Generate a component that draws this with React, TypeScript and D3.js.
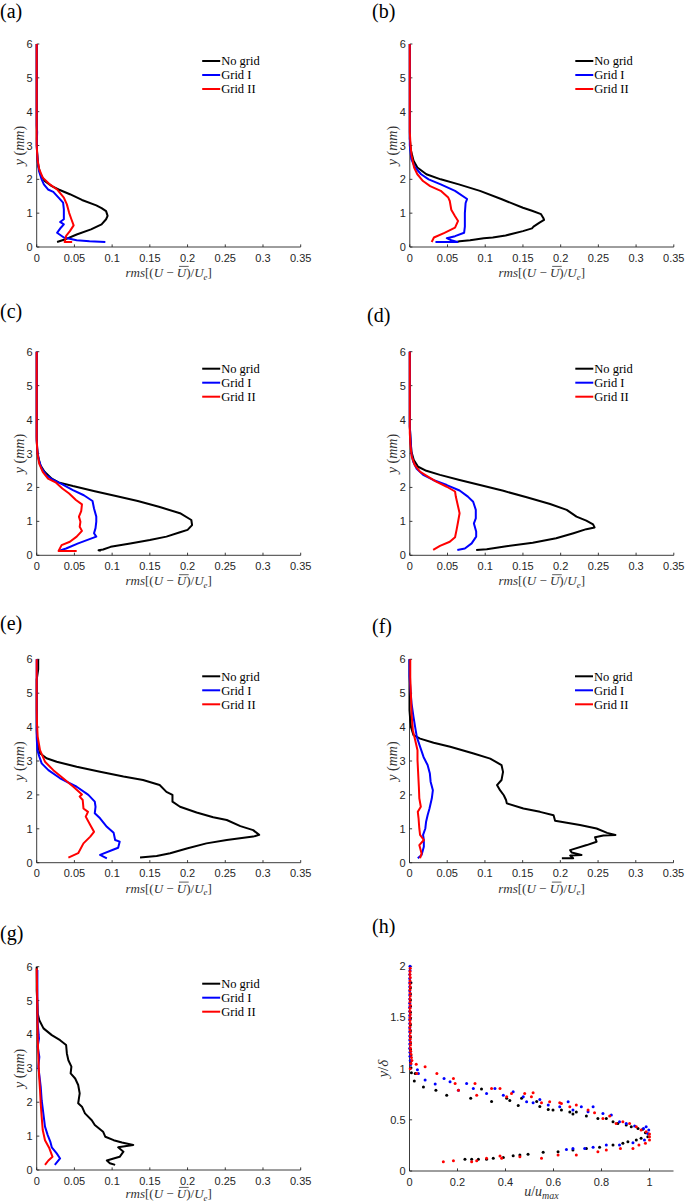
import React, { useLayoutEffect, useRef, useState } from 'react';
import * as d3 from 'd3';

type P = [number, number];

// ---------- tick labels / categories ----------
const rmsTicks = [0, 0.05, 0.1, 0.15, 0.2, 0.25, 0.3, 0.35];
const rmsTickLabels = ['0', '0.05', '0.1', '0.15', '0.2', '0.25', '0.3', '0.35'];
const mmTicks = [0, 1, 2, 3, 4, 5, 6];
const mmTickLabels = ['0', '1', '2', '3', '4', '5', '6'];
const hXTicks = [0, 0.2, 0.4, 0.6, 0.8, 1];
const hXTickLabels = ['0', '0.2', '0.4', '0.6', '0.8', '1'];
const hYTicks = [0, 0.5, 1, 1.5, 2];
const hYTickLabels = ['0', '0.5', '1', '1.5', '2'];
const seriesNames = ['No grid', 'Grid I', 'Grid II'];
const seriesColors = ['#000000', '#0000ff', '#ff0000'];
const panelLabels = ['(a)', '(b)', '(c)', '(d)', '(e)', '(f)', '(g)', '(h)'];

// ---------- series values: [rms, y(mm)] ----------
const aNoGrid: P[] = [[0.027,0.15],[0.037,0.22],[0.053,0.37],[0.072,0.52],[0.086,0.67],[0.092,0.82],[0.094,0.92],[0.092,1.06],[0.086,1.15],[0.079,1.23],[0.06,1.39],[0.044,1.56],[0.029,1.7],[0.02,1.8],[0.0105,1.95],[0.005,2.15],[0.002,2.4],[0.0005,2.8],[0,3.2],[0,6]];
const aGrid1: P[] = [[0.091,0.15],[0.07,0.17],[0.053,0.2],[0.036,0.28],[0.027,0.42],[0.032,0.57],[0.036,0.67],[0.031,0.74],[0.036,0.82],[0.036,1.11],[0.035,1.31],[0.029,1.46],[0.022,1.63],[0.015,1.7],[0.0095,1.85],[0.0066,2.0],[0.003,2.25],[0.001,2.6],[0,3.0],[0.0006,3.4],[0,3.6],[0,6]];
const aGrid2: P[] = [[0.047,0.15],[0.037,0.15],[0.038,0.22],[0.039,0.33],[0.044,0.47],[0.049,0.64],[0.046,0.82],[0.043,1.01],[0.04,1.26],[0.036,1.46],[0.027,1.7],[0.0175,1.85],[0.008,2.05],[0.0033,2.3],[0.001,2.6],[0,3.0],[0,6]];

const bNoGrid: P[] = [[0.062,0.15],[0.066,0.17],[0.08,0.2],[0.098,0.26],[0.11,0.28],[0.127,0.34],[0.15,0.47],[0.162,0.55],[0.164,0.6],[0.172,0.72],[0.178,0.8],[0.177,0.86],[0.174,0.97],[0.162,1.07],[0.15,1.16],[0.122,1.41],[0.093,1.66],[0.065,1.85],[0.041,2.0],[0.022,2.15],[0.01,2.35],[0.005,2.55],[0.0015,2.85],[0,3.2],[0,6]];
const bGrid1: P[] = [[0.034,0.15],[0.063,0.15],[0.055,0.2],[0.049,0.26],[0.06,0.32],[0.072,0.42],[0.073,0.6],[0.073,1.0],[0.074,1.3],[0.076,1.42],[0.06,1.66],[0.041,1.85],[0.025,2.0],[0.015,2.15],[0.007,2.35],[0.002,2.6],[0,3.0],[0,6]];
const bGrid2: P[] = [[0.029,0.15],[0.032,0.28],[0.046,0.42],[0.06,0.57],[0.064,0.77],[0.06,0.91],[0.055,1.1],[0.053,1.36],[0.051,1.46],[0.041,1.66],[0.027,1.8],[0.0175,1.95],[0.01,2.15],[0.0057,2.35],[0.0024,2.7],[0.001,3.0],[0,3.4],[0,6]];

const cNoGrid: P[] = [[0.085,0.13],[0.082,0.15],[0.088,0.17],[0.098,0.25],[0.124,0.35],[0.15,0.45],[0.172,0.55],[0.19,0.68],[0.2,0.75],[0.206,0.89],[0.205,1.04],[0.19,1.24],[0.162,1.43],[0.134,1.6],[0.105,1.75],[0.077,1.89],[0.048,2.04],[0.029,2.15],[0.02,2.26],[0.0104,2.46],[0.0047,2.66],[0.002,2.9],[0.0005,3.15],[0,3.5],[0,6]];
const cGrid1: P[] = [[0.029,0.13],[0.039,0.2],[0.055,0.35],[0.079,0.55],[0.076,0.65],[0.078,0.8],[0.079,0.99],[0.079,1.14],[0.076,1.38],[0.074,1.6],[0.0625,1.77],[0.048,1.92],[0.034,2.09],[0.022,2.22],[0.0128,2.36],[0.0066,2.56],[0.003,2.8],[0.001,3.05],[0,3.4],[0,6]];
const cGrid2: P[] = [[0.053,0.13],[0.029,0.13],[0.033,0.3],[0.044,0.4],[0.053,0.55],[0.06,0.72],[0.057,0.84],[0.058,0.99],[0.056,1.14],[0.059,1.3],[0.06,1.5],[0.052,1.63],[0.043,1.82],[0.034,1.97],[0.025,2.15],[0.015,2.26],[0.008,2.46],[0.0033,2.7],[0.001,3.0],[0,3.4],[0,6]];

const dNoGrid: P[] = [[0.088,0.157],[0.102,0.18],[0.128,0.27],[0.163,0.37],[0.194,0.5],[0.217,0.65],[0.234,0.77],[0.245,0.82],[0.243,0.91],[0.234,1.02],[0.221,1.14],[0.208,1.34],[0.186,1.51],[0.155,1.71],[0.124,1.9],[0.093,2.07],[0.066,2.22],[0.04,2.37],[0.022,2.49],[0.011,2.61],[0.0053,2.81],[0.0022,3.05],[0.001,3.4],[0,3.8],[0,6]];
const dGrid1: P[] = [[0.063,0.157],[0.073,0.2],[0.082,0.35],[0.088,0.55],[0.088,0.7],[0.085,0.94],[0.0875,1.09],[0.0875,1.34],[0.084,1.58],[0.077,1.73],[0.066,1.91],[0.049,2.07],[0.031,2.22],[0.0177,2.37],[0.0088,2.56],[0.0044,2.76],[0.0022,3.0],[0.001,3.4],[0,3.8],[0,6]];
const dGrid2: P[] = [[0.031,0.157],[0.04,0.28],[0.053,0.4],[0.06,0.53],[0.062,0.75],[0.064,0.99],[0.066,1.24],[0.064,1.44],[0.061,1.73],[0.06,1.88],[0.049,2.02],[0.035,2.17],[0.024,2.32],[0.0133,2.47],[0.0066,2.66],[0.0027,2.9],[0.001,3.2],[0,3.6],[0,6]];

const eNoGrid: P[] = [[0.137,0.15],[0.159,0.2],[0.177,0.28],[0.199,0.42],[0.225,0.57],[0.252,0.67],[0.287,0.77],[0.295,0.82],[0.287,0.96],[0.27,1.08],[0.252,1.26],[0.234,1.34],[0.212,1.48],[0.19,1.65],[0.18,1.8],[0.18,2.0],[0.172,2.09],[0.163,2.29],[0.141,2.44],[0.115,2.54],[0.084,2.68],[0.053,2.83],[0.0265,2.98],[0.013,3.08],[0.0044,3.23],[0.001,3.52],[0,3.9],[0,5.4],[0.002,5.7],[0.002,6]];
const eGrid1: P[] = [[0.093,0.13],[0.084,0.23],[0.102,0.39],[0.108,0.44],[0.11,0.62],[0.104,0.67],[0.102,0.88],[0.093,1.06],[0.084,1.31],[0.077,1.46],[0.078,1.65],[0.077,1.8],[0.0685,2.0],[0.053,2.24],[0.031,2.49],[0.0155,2.73],[0.0066,2.93],[0.0035,3.13],[0.0009,3.32],[0,3.7],[0,6]];
const eGrid2: P[] = [[0.042,0.15],[0.055,0.28],[0.062,0.57],[0.071,0.77],[0.076,0.91],[0.071,1.11],[0.065,1.36],[0.068,1.5],[0.062,1.6],[0.061,1.85],[0.057,1.95],[0.06,2.01],[0.0486,2.24],[0.035,2.49],[0.022,2.73],[0.011,2.98],[0.0044,3.32],[0.0013,3.72],[0.0004,4.1],[0,4.5],[0,6]];

const fNoGrid: P[] = [[0.202,0.13],[0.217,0.13],[0.213,0.21],[0.228,0.23],[0.215,0.3],[0.213,0.37],[0.235,0.52],[0.248,0.62],[0.246,0.75],[0.257,0.8],[0.273,0.82],[0.262,0.88],[0.248,1.01],[0.226,1.11],[0.193,1.24],[0.191,1.4],[0.173,1.5],[0.151,1.6],[0.129,1.75],[0.128,1.85],[0.125,1.99],[0.12,2.14],[0.116,2.29],[0.122,2.44],[0.124,2.68],[0.122,2.88],[0.107,3.07],[0.085,3.22],[0.054,3.42],[0.032,3.54],[0.014,3.66],[0.0053,3.76],[0.002,4.0],[0.001,4.2],[0,4.5],[0,6]];
const fGrid1: P[] = [[0.011,0.13],[0.016,0.23],[0.019,0.47],[0.019,0.67],[0.018,0.82],[0.021,1.01],[0.022,1.21],[0.024,1.4],[0.0265,1.6],[0.0296,1.9],[0.031,2.14],[0.028,2.39],[0.027,2.63],[0.024,2.88],[0.0186,3.12],[0.0133,3.47],[0.0097,3.71],[0.0075,4.0],[0.0053,4.3],[0.0027,4.7],[0.0013,5.1],[0,5.5],[0,6]];
const fGrid2: P[] = [[0.014,0.13],[0.016,0.27],[0.013,0.52],[0.019,0.67],[0.014,0.82],[0.013,1.01],[0.012,1.31],[0.011,1.5],[0.015,1.65],[0.013,1.9],[0.0124,2.24],[0.0115,2.63],[0.0106,3.03],[0.0106,3.32],[0.0075,3.62],[0.0044,3.91],[0.0027,4.4],[0.0018,5.0],[0.001,5.48],[0.001,6]];

const gNoGrid: P[] = [[0.104,0.15],[0.097,0.2],[0.093,0.28],[0.102,0.34],[0.11,0.39],[0.115,0.54],[0.108,0.67],[0.128,0.74],[0.113,0.81],[0.102,0.88],[0.091,0.98],[0.088,1.13],[0.077,1.33],[0.073,1.47],[0.064,1.67],[0.06,1.87],[0.055,1.97],[0.057,2.26],[0.055,2.51],[0.051,2.7],[0.045,2.85],[0.046,3.05],[0.042,3.24],[0.04,3.44],[0.039,3.69],[0.031,3.83],[0.02,3.98],[0.009,4.18],[0.0035,4.42],[0.0013,4.62],[0.0009,4.9],[0,5.3],[0,6]];
const gGrid1: P[] = [[0.024,0.15],[0.031,0.34],[0.0265,0.49],[0.02,0.67],[0.018,0.84],[0.0146,1.03],[0.011,1.28],[0.0088,1.67],[0.0066,2.06],[0.0053,2.46],[0.0035,2.8],[0.0022,3.05],[0.0035,3.34],[0.0013,3.64],[0.003,3.88],[0.0013,4.33],[0.0009,4.92],[0.0009,5.9]];
const gGrid2: P[] = [[0.011,0.15],[0.0155,0.28],[0.021,0.39],[0.0168,0.64],[0.011,0.88],[0.008,1.18],[0.0066,1.57],[0.0053,1.97],[0.0044,2.36],[0.003,2.85],[0.0022,3.34],[0.0013,3.93],[0.0009,4.72],[0.0004,5.5],[0,5.95]];

// ---------- panel (h): [u/umax, y/delta] ----------
const hNoGrid: P[] = [[0.006,1.84],[0.004,1.79],[0.004,1.73],[0.004,1.67],[0.004,1.61],[0.004,1.55],[0.004,1.49],[0.004,1.43],[0.004,1.37],[0.004,1.31],[0.004,1.25],[0.004,1.19],[0.005,1.13],[0.005,1.07],[0.006,1.01],[0.008,0.96],
  [0.024,0.953],[0.02,0.88],[0.058,0.82],[0.11,0.79],[0.155,0.74],[0.255,0.71],[0.3,0.8],[0.342,0.68],[0.405,0.71],[0.418,0.69],[0.453,0.64],[0.467,0.71],[0.53,0.68],[0.543,0.63],[0.578,0.6],[0.598,0.595],[0.633,0.595],[0.668,0.576],[0.681,0.556],[0.695,0.576],[0.737,0.537],[0.785,0.514],[0.82,0.514],[0.848,0.481],[0.868,0.465],[0.903,0.449],[0.924,0.433],[0.952,0.416],[0.972,0.407],[0.983,0.374],[0.993,0.335],[0.965,0.319],[0.945,0.302],[0.91,0.286],[0.889,0.27],[0.848,0.254],[0.792,0.231],[0.737,0.221],[0.681,0.205],[0.619,0.189],[0.557,0.182],[0.494,0.163],[0.46,0.156],[0.432,0.15],[0.391,0.133],[0.349,0.124],[0.321,0.114],[0.287,0.114],[0.259,0.114],[0.231,0.114]];
const hGrid1: P[] = [[0.002,2.0],[0.002,1.96],[0.001,1.92],[0.001,1.88],[0.001,1.84],[0.001,1.8],[0.001,1.76],[0.001,1.72],[0.001,1.68],[0.001,1.64],[0.001,1.6],[0.001,1.56],[0.001,1.52],[0.001,1.48],[0.001,1.44],[0.001,1.4],[0.001,1.36],[0.001,1.32],[0.001,1.28],[0.001,1.24],[0.001,1.2],[0.002,1.16],[0.002,1.12],[0.003,1.08],[0.005,1.04],
  [0.033,0.99],[0.037,0.953],[0.065,0.888],[0.107,0.849],[0.144,0.904],[0.169,0.871],[0.204,0.79],[0.238,0.855],[0.266,0.806],[0.321,0.758],[0.356,0.806],[0.391,0.741],[0.432,0.774],[0.474,0.725],[0.488,0.676],[0.515,0.667],[0.543,0.699],[0.578,0.644],[0.626,0.628],[0.661,0.676],[0.681,0.595],[0.716,0.628],[0.744,0.579],[0.765,0.628],[0.806,0.563],[0.841,0.546],[0.875,0.481],[0.903,0.465],[0.938,0.439],[0.975,0.416],[0.986,0.433],[0.997,0.4],[0.993,0.367],[0.979,0.302],[0.931,0.276],[0.875,0.254],[0.82,0.254],[0.765,0.231],[0.73,0.221],[0.681,0.221],[0.654,0.211]];
const hGrid2: P[] = [[0.003,1.98],[0.002,1.95],[0.002,1.92],[0.003,1.89],[0.002,1.86],[0.002,1.83],[0.003,1.8],[0.002,1.77],[0.002,1.74],[0.003,1.71],[0.002,1.68],[0.002,1.65],[0.003,1.62],[0.002,1.59],[0.002,1.56],[0.003,1.53],[0.002,1.5],[0.002,1.47],[0.003,1.44],[0.002,1.41],[0.002,1.38],[0.003,1.35],[0.003,1.32],[0.003,1.29],[0.004,1.26],[0.004,1.23],[0.004,1.2],[0.005,1.17],[0.006,1.14],[0.008,1.11],[0.01,1.08],[0.006,1.05],[0.003,1.0],
  [0.028,1.044],[0.065,1.018],[0.03,0.953],[0.114,0.953],[0.183,0.904],[0.19,0.855],[0.204,0.79],[0.273,0.855],[0.28,0.741],[0.342,0.806],[0.377,0.806],[0.405,0.725],[0.425,0.758],[0.48,0.758],[0.508,0.725],[0.515,0.764],[0.55,0.667],[0.584,0.676],[0.626,0.667],[0.633,0.66],[0.668,0.628],[0.695,0.644],[0.744,0.595],[0.771,0.569],[0.806,0.514],[0.834,0.537],[0.861,0.465],[0.889,0.481],[0.917,0.465],[0.945,0.433],[0.965,0.4],[0.986,0.384],[1.0,0.361],[1.0,0.335],[1.0,0.302],[0.983,0.27],[0.956,0.254],[0.931,0.221],[0.879,0.221],[0.82,0.205],[0.785,0.189],[0.695,0.156],[0.619,0.156],[0.55,0.124],[0.46,0.14],[0.384,0.124],[0.377,0.146],[0.321,0.124],[0.28,0.101],[0.259,0.091],[0.183,0.101],[0.141,0.091]];

const lineSeries: P[][][] = [
  [aNoGrid, aGrid1, aGrid2],
  [bNoGrid, bGrid1, bGrid2],
  [cNoGrid, cGrid1, cGrid2],
  [dNoGrid, dGrid1, dGrid2],
  [eNoGrid, eGrid1, eGrid2],
  [fNoGrid, fGrid1, fGrid2],
  [gNoGrid, gGrid1, gGrid2],
];
const scatterSeries: P[][] = [hNoGrid, hGrid1, hGrid2];

// ---------- layout (pixels) ----------
const W = 685;
const H = 1203;
const AXW = 264;
const layout = [
  { lx: 0, ly: 18, left: 36.7, top: 44, bottom: 247 },
  { lx: 372, ly: 18, left: 409.8, top: 44, bottom: 247 },
  { lx: 0, ly: 318, left: 36.7, top: 351.7, bottom: 555.3 },
  { lx: 367, ly: 322, left: 409.8, top: 351.7, bottom: 555.3 },
  { lx: 0, ly: 630, left: 36.7, top: 659.3, bottom: 862.7 },
  { lx: 372, ly: 633, left: 409.5, top: 659.3, bottom: 862.7 },
  { lx: 0, ly: 940, left: 36.7, top: 966.7, bottom: 1170 },
  { lx: 372, ly: 933, left: 409.5, top: 966.3, bottom: 1171 },
];

const SANS = '"Liberation Sans", Arial, Helvetica, sans-serif';
const SERIF = '"Liberation Serif", "Times New Roman", serif';
const AXC = '#262626';
const LW = 2;

function Axes({ x, y, xt, xtl, yt, ytl }: any) {
  const [x0, x1] = x.range();
  const [y0, y1] = y.range();
  const tick = 2.6;
  return (
    <g>
      <line x1={x0} x2={x1} y1={y0} y2={y0} stroke={AXC} strokeWidth={0.9} />
      <line x1={x0} x2={x0} y1={y0} y2={y1} stroke={AXC} strokeWidth={0.9} />
      {xt.map((t: number, i: number) => (
        <g key={'x' + i}>
          <line x1={x(t)} x2={x(t)} y1={y0} y2={y0 - tick} stroke={AXC} strokeWidth={0.9} />
          <text x={x(t)} y={y0 + 14.5} textAnchor="middle" fontFamily={SANS} fontSize={11} fill={AXC}>{xtl[i]}</text>
        </g>
      ))}
      {yt.map((t: number, i: number) => (
        <g key={'y' + i}>
          <line x1={x0} x2={x0 + tick} y1={y(t)} y2={y(t)} stroke={AXC} strokeWidth={0.9} />
          <text x={x0 - 4} y={y(t) + 4} textAnchor="end" fontFamily={SANS} fontSize={11} fill={AXC}>{ytl[i]}</text>
        </g>
      ))}
    </g>
  );
}

function RmsLabel({ cx, cy }: { cx: number; cy: number }) {
  const ref = useRef<SVGTSpanElement>(null);
  const [bar, setBar] = useState<[number, number] | null>(null);
  useLayoutEffect(() => {
    if (ref.current) {
      const b = (ref.current as any).getBBox();
      setBar([b.x + 2.2, b.x + b.width + 0.8]);
    }
  }, [cx, cy]);
  return (
    <g>
      <text x={cx} y={cy} textAnchor="middle" fontFamily={SERIF} fontSize={13} fill="#333">
        <tspan fontStyle="italic">rms</tspan>
        <tspan>[(</tspan>
        <tspan fontStyle="italic">U</tspan>
        <tspan> − </tspan>
        <tspan ref={ref} fontStyle="italic">U</tspan>
        <tspan>)/</tspan>
        <tspan fontStyle="italic">U</tspan>
        <tspan fontStyle="italic" fontSize={9} dy={2.5}>e</tspan>
        <tspan dy={-2.5}>]</tspan>
      </text>
      {bar && <line x1={bar[0]} x2={bar[1]} y1={cy - 10.6} y2={cy - 10.6} stroke="#333" strokeWidth={0.8} />}
    </g>
  );
}

function MmLabel({ cx, cy }: { cx: number; cy: number }) {
  return (
    <text transform={`translate(${cx},${cy}) rotate(-90)`} textAnchor="middle" fontFamily={SERIF} fontSize={14} fill="#333">
      <tspan fontStyle="italic">y</tspan>
      <tspan> (</tspan>
      <tspan fontStyle="italic">mm</tspan>
      <tspan>)</tspan>
    </text>
  );
}

function Legend({ left, top }: { left: number; top: number }) {
  const rows = [17, 31, 45];
  return (
    <g>
      {seriesNames.map((n, i) => (
        <g key={n}>
          <line x1={left + 165.5} x2={left + 183.5} y1={top + rows[i]} y2={top + rows[i]} stroke={seriesColors[i]} strokeWidth={LW} />
          <text x={left + 184.5} y={top + rows[i] + 4.2} fontFamily={SERIF} fontSize={12.5} fill="#000">{n}</text>
        </g>
      ))}
    </g>
  );
}

function LinePanel({ idx }: { idx: number }) {
  const L = layout[idx];
  const x = d3.scaleLinear().domain([0, 0.35]).range([L.left, L.left + AXW]);
  const y = d3.scaleLinear().domain([0, 6]).range([L.bottom, L.top]);
  const line = d3.line<P>().x((d) => x(d[0])).y((d) => y(d[1]));
  return (
    <g>
      <text x={L.lx} y={L.ly} fontFamily={SERIF} fontSize={20} fill="#000">{panelLabels[idx]}</text>
      <Axes x={x} y={y} xt={rmsTicks} xtl={rmsTickLabels} yt={mmTicks} ytl={mmTickLabels} />
      {lineSeries[idx].map((s, i) => (
        <path key={i} d={line(s) || ''} fill="none" stroke={seriesColors[i]} strokeWidth={LW} strokeLinejoin="round" />
      ))}
      <Legend left={L.left} top={L.top} />
      <RmsLabel cx={L.left + AXW / 2} cy={Math.min(L.bottom + 30, 1198)} />
      <MmLabel cx={L.left - 13} cy={(L.top + L.bottom) / 2} />
    </g>
  );
}

function ScatterPanel() {
  const L = layout[7];
  const x = d3.scaleLinear().domain([0, 1.1]).range([L.left, L.left + AXW]);
  const y = d3.scaleLinear().domain([0, 2]).range([L.bottom, L.top]);
  return (
    <g>
      <text x={L.lx} y={L.ly} fontFamily={SERIF} fontSize={20} fill="#000">{panelLabels[7]}</text>
      <Axes x={x} y={y} xt={hXTicks} xtl={hXTickLabels} yt={hYTicks} ytl={hYTickLabels} />
      {scatterSeries.map((s, i) => (
        <g key={i} fill={seriesColors[i]}>
          {s.map((d, j) => (
            <circle key={j} cx={x(d[0])} cy={y(d[1])} r={1.5} />
          ))}
        </g>
      ))}
      <text x={x(0.55)} y={1196} textAnchor="middle" fontFamily={SERIF} fontSize={14} fill="#333">
        <tspan fontStyle="italic">u</tspan>
        <tspan>/</tspan>
        <tspan fontStyle="italic">u</tspan>
        <tspan fontStyle="italic" fontSize={10} dy={2.5}>max</tspan>
      </text>
      <text transform={`translate(${L.left - 22},${(L.top + L.bottom) / 2}) rotate(-90)`} textAnchor="middle" fontFamily={SERIF} fontSize={15} fill="#333">
        <tspan fontStyle="italic">y</tspan>
        <tspan>/</tspan>
        <tspan fontStyle="italic">δ</tspan>
      </text>
    </g>
  );
}

export default function App() {
  return (
    <svg width={W} height={H} style={{ position: 'absolute', left: 0, top: 0, background: '#fff' }}>
      <rect x={0} y={0} width={W} height={H} fill="#fff" />
      {lineSeries.map((_, i) => (
        <LinePanel key={i} idx={i} />
      ))}
      <ScatterPanel />
    </svg>
  );
}
